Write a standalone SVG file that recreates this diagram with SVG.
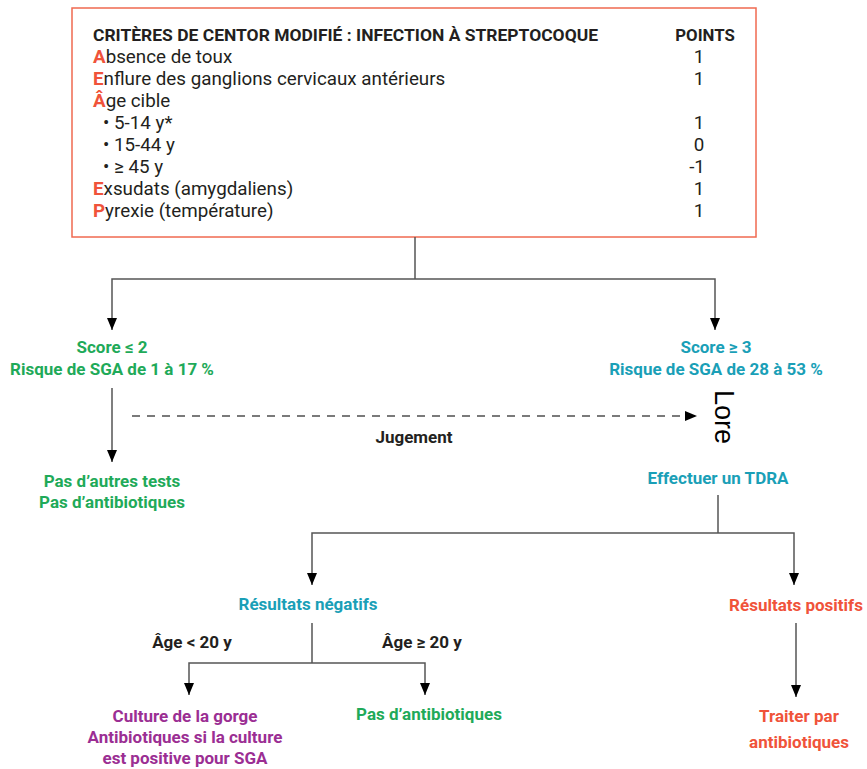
<svg xmlns="http://www.w3.org/2000/svg" width="867" height="769" viewBox="0 0 867 769">
<defs>
<style>
text{font-family:Roboto,"Open Sans","Liberation Sans",sans-serif;}
.t{font-size:18.8px;fill:#231f20;}
.h{font-size:16.8px;font-weight:bold;fill:#231f20;}
.r{fill:#f0533a;font-weight:bold;}
.lbl{font-size:17px;font-weight:bold;text-anchor:middle;}
.g{fill:#1faa59;}
.c{fill:#1a9fb7;}
.o{fill:#f0533a;}
.p{fill:#9b2e93;}
.k{fill:#231f20;}
.ln{fill:none;stroke:#555;stroke-width:1.5;}
.dash{fill:none;stroke:#7a7a7a;stroke-width:2;stroke-dasharray:8 7;}
</style>
<marker id="ah" viewBox="0 0 12 10" refX="12" refY="5" markerWidth="12" markerHeight="10" markerUnits="userSpaceOnUse" orient="auto">
<path d="M0,0 L12,5 L0,10 Z" fill="#000"/>
</marker>
</defs>
<rect width="867" height="769" fill="#fff"/>

<g id="criteria">
<rect x="72" y="8" width="684" height="229" fill="#fff" stroke="#f06a50" stroke-width="1.5"/>
<text class="h" x="93" y="41" textLength="505" lengthAdjust="spacingAndGlyphs">CRITÈRES DE CENTOR MODIFIÉ : INFECTION À STREPTOCOQUE</text>
<text class="h" x="705" y="41" text-anchor="middle">POINTS</text>
<text class="t" x="93" y="63"><tspan class="r">A</tspan>bsence de toux</text>
<text class="t" x="93" y="85"><tspan class="r">E</tspan>nflure des ganglions cervicaux antérieurs</text>
<text class="t" x="93" y="107"><tspan class="r">Â</tspan>ge cible</text>
<text class="t" x="103" y="129">• 5-14 y*</text>
<text class="t" x="103" y="151">• 15-44 y</text>
<text class="t" x="103" y="173">• ≥ 45 y</text>
<text class="t" x="93" y="195"><tspan class="r">E</tspan>xsudats (amygdaliens)</text>
<text class="t" x="93" y="217"><tspan class="r">P</tspan>yrexie (température)</text>
<text class="t" x="699" y="63" text-anchor="middle">1</text>
<text class="t" x="699" y="85" text-anchor="middle">1</text>
<text class="t" x="699" y="129" text-anchor="middle">1</text>
<text class="t" x="699" y="151" text-anchor="middle">0</text>
<text class="t" x="697" y="173" text-anchor="middle">-1</text>
<text class="t" x="699" y="195" text-anchor="middle">1</text>
<text class="t" x="699" y="217" text-anchor="middle">1</text>
</g>

<g id="connectors">
<path class="ln" d="M415,237 V279"/>
<path class="ln" d="M415,279 H112 V330" marker-end="url(#ah)"/>
<path class="ln" d="M415,279 H715 V330" marker-end="url(#ah)"/>
<path class="ln" d="M112,388 V462" marker-end="url(#ah)"/>
<path class="dash" d="M132,416 H697" marker-end="url(#ah)"/>
<path class="ln" d="M718,495 V533"/>
<path class="ln" d="M718,533 H312 V585" marker-end="url(#ah)"/>
<path class="ln" d="M718,533 H794 V585" marker-end="url(#ah)"/>
<path class="ln" d="M312,623 V663"/>
<path class="ln" d="M312,663 H189 V695" marker-end="url(#ah)"/>
<path class="ln" d="M312,663 H425 V695" marker-end="url(#ah)"/>
<path class="ln" d="M796,623 V697" marker-end="url(#ah)"/>
</g>

<g id="score-low">
<text class="lbl g" x="112" y="353">Score ≤ 2</text>
<text class="lbl g" x="112" y="375">Risque de SGA de 1 à 17 %</text>
</g>
<g id="score-high">
<text class="lbl c" x="716" y="353">Score ≥ 3</text>
<text class="lbl c" x="716" y="375">Risque de SGA de 28 à 53 %</text>
</g>
<g id="jugement">
<text class="lbl k" x="414" y="443">Jugement</text>
</g>
<g id="lore">
<text x="715" y="390" transform="rotate(90 715 390)" style="font-family:'Liberation Sans',Arial,sans-serif;font-size:27px;fill:#000;">Lore</text>
</g>
<g id="no-tests">
<text class="lbl g" x="112" y="487">Pas d’autres tests</text>
<text class="lbl g" x="112" y="508">Pas d’antibiotiques</text>
</g>
<g id="tdra">
<text class="lbl c" x="718" y="484">Effectuer un TDRA</text>
</g>
<g id="negatifs">
<text class="lbl c" x="308" y="610">Résultats négatifs</text>
</g>
<g id="positifs">
<text class="lbl o" x="796" y="611">Résultats positifs</text>
</g>
<g id="age-lt">
<text class="lbl k" x="192" y="648">Âge &lt; 20 y</text>
</g>
<g id="age-ge">
<text class="lbl k" x="422" y="648">Âge ≥ 20 y</text>
</g>
<g id="culture">
<text class="lbl p" x="185" y="722">Culture de la gorge</text>
<text class="lbl p" x="185" y="743">Antibiotiques si la culture</text>
<text class="lbl p" x="185" y="764">est positive pour SGA</text>
</g>
<g id="no-antibio">
<text class="lbl g" x="429" y="720">Pas d’antibiotiques</text>
</g>
<g id="traiter">
<text class="lbl o" x="799" y="722">Traiter par</text>
<text class="lbl o" x="799" y="748">antibiotiques</text>
</g>
</svg>
